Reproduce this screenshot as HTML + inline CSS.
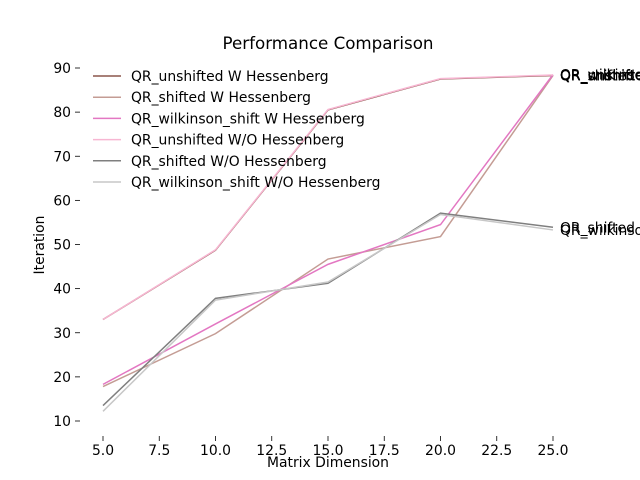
<!DOCTYPE html>
<html><head><meta charset="utf-8"><style>
body{margin:0;background:#fff}
svg{display:block;font-family:"DejaVu Sans","Liberation Sans",sans-serif}
</style></head><body>
<svg id="chart" width="640" height="480" viewBox="0 0 640 480">
<text x="328" y="49" font-size="16.7" text-anchor="middle" fill="#000">Performance Comparison</text>
<g id="axes"></g>
<g id="series"></g>
<g id="legend"></g>
<text x="328" y="467" font-size="13.9" text-anchor="middle">Matrix Dimension</text>
<text transform="translate(44,245) rotate(-90)" font-size="13.9" text-anchor="middle">Iteration</text>
</svg>
<script>
const categories=[5,10,15,20,25];
const seriesNames=["QR_unshifted W Hessenberg","QR_shifted W Hessenberg","QR_wilkinson_shift W Hessenberg","QR_unshifted W/O Hessenberg","QR_shifted W/O Hessenberg","QR_wilkinson_shift W/O Hessenberg"];
const unshiftedW=[33,48.7,80.5,87.5,88.3];
const shiftedW=[17.8,29.8,46.7,51.8,88.3];
const wilkinsonW=[18.3,32,45.5,54.5,88.5];
const unshiftedWO=[33,48.8,80.6,87.6,88.4];
const shiftedWO=[13.5,37.8,41.2,57.1,53.9];
const wilkinsonWO=[12.2,37.4,41.5,56.8,53.3];
const xTicks=[5,7.5,10,12.5,15,17.5,20,22.5,25];
const yTicks=[10,20,30,40,50,60,70,80,90];
const colors=["#8c564b","#c49c94","#e377c2","#f7b6d2","#7f7f7f","#c7c7c7"];
const endLabels=["QR_unshifted","QR_shifted","QR_wilkinson","QR_unshifted","QR_shifted","QR_wilkinson"];
const X=v=>103+(v-5)*22.5, Y=v=>421-(v-10)*4.4125;
const NS="http://www.w3.org/2000/svg";
function mk(t,a,p){const e=document.createElementNS(NS,t);for(const k in a)e.setAttribute(k,a[k]);p.appendChild(e);return e;}
const ax=document.getElementById('axes');
xTicks.forEach(t=>{
 const l=mk('line',{x1:X(t),x2:X(t),y1:436,y2:441,stroke:'#000','stroke-width':0.8},ax);
 
 
 const tx=mk('text',{x:X(t),y:455,'font-size':13.9,'text-anchor':'middle'},ax);tx.textContent=t.toFixed(1);
 
 
});
yTicks.forEach(t=>{
 const l=mk('line',{x1:75,x2:80,y1:Y(t),y2:Y(t),stroke:'#000','stroke-width':0.8},ax);
 
 
 const tx=mk('text',{x:71,y:Y(t)+5,'font-size':13.9,'text-anchor':'end'},ax);tx.textContent=t;
 
 
});
const data=[unshiftedW,shiftedW,wilkinsonW,unshiftedWO,shiftedWO,wilkinsonWO];
const sg=document.getElementById('series');
data.forEach((d,i)=>{
 const p=mk('polyline',{points:d.map((v,j)=>X(categories[j])+','+Y(v)).join(' '),fill:'none',stroke:colors[i],'stroke-width':1.5},sg);
 
 
 const tx=mk('text',{x:X(25)+7,y:Y(d[4])+5,'font-size':13.9,fill:'#000'},sg);tx.textContent=endLabels[i];
 
 
});
const lg=document.getElementById('legend');
seriesNames.forEach((n,i)=>{
 const y=76+i*21.2;
 const l=mk('line',{x1:93,x2:121,y1:y,y2:y,stroke:colors[i],'stroke-width':1.5},lg);
 
 
 const tx=mk('text',{x:131,y:y+5,'font-size':13.9},lg);tx.textContent=n;
 
 
});
</script>
</body></html>
